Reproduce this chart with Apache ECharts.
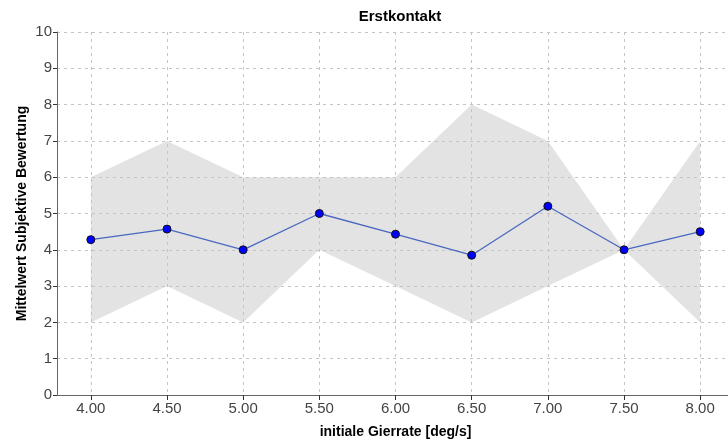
<!DOCTYPE html>
<html>
<head>
<meta charset="utf-8">
<script src="https://cdn.jsdelivr.net/npm/echarts@6/dist/echarts.min.js"></script>
<style>
  html, body { margin: 0; padding: 0; background: #fff; }
  #chart { width: 728px; height: 442px; }
</style>
</head>
<body>
<div id="chart"></div>
<script>
// Initial yaw rate steps [deg/s]
const xValues = [4.0, 4.5, 5.0, 5.5, 6.0, 6.5, 7.0, 7.5, 8.0];
// Mean subjective rating per step
const meanValues = [4.28, 4.57, 4.0, 5.0, 4.43, 3.85, 5.2, 4.0, 4.5];
// Spread of individual ratings (min / max)
const bandMin = [2, 3, 2, 4, 3, 2, 3, 4, 2];
const bandMax = [6, 7, 6, 6, 6, 8, 7, 4, 7];
// Axis ticks
const xTicks = [4.0, 4.5, 5.0, 5.5, 6.0, 6.5, 7.0, 7.5, 8.0];
const yTicks = [0, 1, 2, 3, 4, 5, 6, 7, 8, 9, 10];

const font = '"Liberation Sans", Arial, sans-serif';
const axisGrey = '#666';
const gridLine = { show: true, lineStyle: { color: '#c4c4c4', type: [3, 4], width: 1 } };

const upperData = xValues.map((x, i) => [x, bandMax[i]]);
const lowerData = xValues.map((x, i) => [x, bandMin[i]]);
const meanData = xValues.map((x, i) => [x, meanValues[i]]);

const chart = echarts.init(document.getElementById('chart'), null, { renderer: 'canvas' });
chart.setOption({
  animation: false,
  backgroundColor: '#fff',
  title: {
    text: 'Erstkontakt',
    left: 395,
    top: 4,
    textAlign: 'center',
    textStyle: { fontFamily: font, fontSize: 15, fontWeight: 'bold', color: '#000' }
  },
  grid: { left: 57, right: -6, top: 32, bottom: 47, containLabel: false, outerBoundsMode: 'none' },
  xAxis: {
    type: 'value',
    min: 3.778,
    max: 8.222,
    name: 'initiale Gierrate [deg/s]',
    nameLocation: 'middle',
    nameGap: 30,
    nameMoveOverlap: false,
    nameTextStyle: { fontFamily: font, fontSize: 14, fontWeight: 'bold', color: '#000' },
    axisLine: { show: true, onZero: false, lineStyle: { color: axisGrey, width: 1 } },
    axisTick: { show: true, length: 5, customValues: xTicks, lineStyle: { color: '#333' } },
    axisLabel: {
      customValues: xTicks,
      margin: 6,
      fontFamily: font, fontSize: 15, color: '#444',
      formatter: v => v.toFixed(2)
    },
    splitLine: gridLine
  },
  yAxis: {
    type: 'value',
    min: 0,
    max: 10,
    interval: 1,
    name: 'Mittelwert Subjektive Bewertung',
    nameLocation: 'middle',
    nameGap: 28,
    nameMoveOverlap: false,
    nameTextStyle: { fontFamily: font, fontSize: 14, fontWeight: 'bold', color: '#000' },
    axisLine: { show: true, onZero: false, lineStyle: { color: axisGrey, width: 1 } },
    axisTick: { show: true, length: 4, lineStyle: { color: '#333' } },
    axisLabel: { margin: 5, fontFamily: font, fontSize: 15, color: '#444' },
    splitLine: gridLine
  },
  series: [
    {
      // grey fill from the maximum rating down to the axis
      type: 'line',
      data: upperData,
      symbol: 'none',
      lineStyle: { width: 0, opacity: 0 },
      areaStyle: { color: '#e3e3e3', opacity: 1, origin: 'start' },
      silent: true,
      z: -2
    },
    {
      // white fill below the minimum rating clears the area under the band
      type: 'line',
      data: lowerData,
      symbol: 'none',
      lineStyle: { width: 0, opacity: 0 },
      areaStyle: { color: '#ffffff', opacity: 1, origin: 'start' },
      silent: true,
      z: -1
    },
    {
      type: 'line',
      data: meanData,
      symbol: 'circle',
      symbolSize: 8,
      lineStyle: { color: '#4a68c0', width: 1.3 },
      itemStyle: { color: '#0000ff', borderColor: '#111', borderWidth: 1 },
      z: 5
    }
  ]
});
</script>
</body>
</html>
